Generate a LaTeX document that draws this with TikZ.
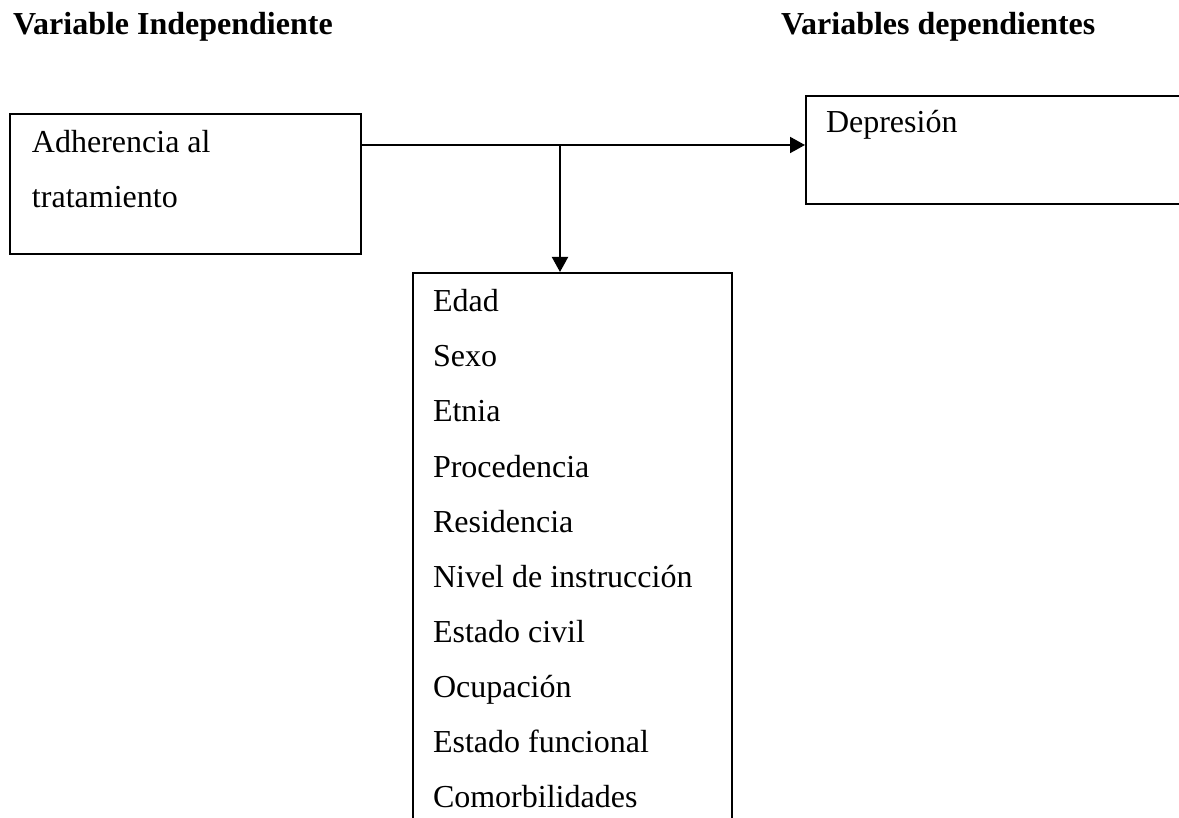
\documentclass[tikz,border=0pt]{standalone}
\usepackage{fontspec}
\setmainfont{Liberation Serif}
\usetikzlibrary{arrows.meta}

\begin{document}
\begin{tikzpicture}[x=0.5pt,y=-0.5pt,line width=1pt,
  caja/.style={draw,rectangle,inner sep=0pt,anchor=north west},
  txt/.style={anchor=base west,inner sep=0pt,font=\fontsize{16}{20}\selectfont},
  titulo/.style={txt,font=\fontsize{16}{20}\selectfont\bfseries},
  flecha/.style={-{Triangle[length=7.5pt,width=8pt]}}]
\clip (0,0) rectangle (1179,818);

% titulos
\node[titulo] (tind) at (12,35) {Variable Independiente};
\node[titulo] (tdep) at (780,35) {Variables dependientes};

% cajas
\node[caja,minimum width=175.5pt,minimum height=70pt] (adh) at (9,113) {};
\node[caja,minimum width=225pt,minimum height=54pt] (dep) at (805,95) {};
\node[caja,minimum width=159.5pt,minimum height=300pt] (vars) at (412,272) {};

\node[txt] (adh1) at (31,153) {Adherencia al};
\node[txt] (adh2) at (31,208) {tratamiento};
\node[txt] (dep1) at (825,133) {Depresión};

\foreach \v [count=\i from 0] in {Edad,Sexo,Etnia,Procedencia,Residencia,
  Nivel de instrucción,Estado civil,Ocupación,Estado funcional,Comorbilidades}
  \node[txt] (v\i) at (432,312+55*\i) {\v};

% flechas
\coordinate (ini) at (adh.east |- 0,145);
\coordinate (rama) at (560,145);
\draw[flecha] (ini) -- (ini -| dep.west);
\draw[flecha] (rama) -- (rama |- vars.north);
\end{tikzpicture}
\end{document}
